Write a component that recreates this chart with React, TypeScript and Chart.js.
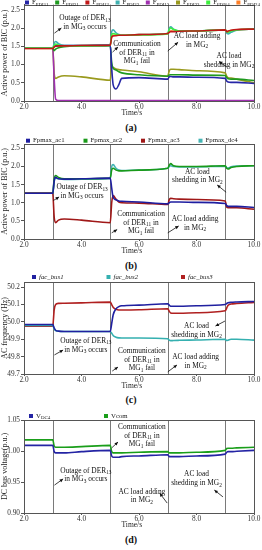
import React, { useEffect, useRef } from "react";
import { Chart, registerables } from "chart.js";
Chart.register(...registerables);

const FONT = '"Liberation Serif", "Times New Roman", serif';

// ---------- shared ----------
const time = [2.0, 3.0, 3.05, 3.1, 3.2, 3.4, 4.0, 5.0, 5.05, 5.1, 5.2, 5.3, 5.4, 6.0, 7.0, 7.05, 7.1, 7.2, 7.4, 8.0, 9.0, 9.05, 9.1, 9.2, 9.4, 10.0];
const xTicks = [2, 4, 6, 8, 10];
const eventTimes = [3, 5, 7, 9];
const xTitle = "Time/s";

// ---------- (a) active power of BIC ----------
const aLabels = ["F_{PDI11}", "F_{PDI21}", "F_{PDI12}", "F_{PDI22}", "F_{PDI13}", "F_{PDI23}", "F_{PDI14}", "F_{PDI24}"];
const aPDI11 = [1.45, 1.45, 1.50, 1.51, 1.52, 1.52, 1.52, 1.53, 0.90, 0.45, 0.33, 0.45, 0.62, 0.64, 0.60, 0.66, 0.67, 0.66, 0.66, 0.65, 0.62, 0.55, 0.52, 0.51, 0.51, 0.48];
const aPDI21 = [1.45, 1.45, 1.38, 1.42, 1.46, 1.49, 1.51, 1.52, 1.05, 0.90, 0.85, 0.80, 0.77, 0.72, 0.68, 0.71, 0.72, 0.72, 0.72, 0.71, 0.70, 0.64, 0.61, 0.60, 0.60, 0.56];
const aPDI12 = [1.44, 1.44, 1.48, 1.50, 1.51, 1.51, 1.52, 1.53, 1.75, 1.78, 1.79, 1.80, 1.80, 1.82, 1.85, 1.88, 1.90, 1.90, 1.91, 1.92, 1.95, 1.90, 1.92, 1.94, 1.96, 1.97];
const aPDI22 = [1.45, 1.45, 1.58, 1.63, 1.57, 1.52, 1.52, 1.53, 1.90, 1.95, 1.87, 1.82, 1.80, 1.82, 1.85, 1.98, 2.03, 1.97, 1.92, 1.92, 1.95, 1.86, 1.84, 1.88, 1.94, 1.97];
const aPDI13 = [1.45, 1.45, 0.60, 0.05, 0.01, 0.01, 0.01, 0.01, 0.01, 0.01, 0.01, 0.01, 0.01, 0.01, 0.01, 0.01, 0.01, 0.01, 0.01, 0.01, 0.01, 0.01, 0.01, 0.01, 0.01, 0.01];
const aPDI23 = [1.45, 1.45, 0.75, 0.62, 0.66, 0.69, 0.66, 0.57, 0.95, 0.92, 0.88, 0.86, 0.85, 0.80, 0.68, 0.82, 0.87, 0.87, 0.86, 0.83, 0.77, 0.68, 0.64, 0.63, 0.60, 0.50];
const aPDI14 = [1.45, 1.45, 1.52, 1.56, 1.53, 1.51, 1.51, 1.52, 1.82, 1.85, 1.83, 1.81, 1.80, 1.81, 1.84, 1.95, 2.00, 1.96, 1.92, 1.92, 1.95, 1.90, 1.89, 1.92, 1.95, 1.97];
const aPDI24 = [1.44, 1.44, 1.49, 1.51, 1.51, 1.51, 1.52, 1.53, 1.77, 1.80, 1.80, 1.80, 1.80, 1.82, 1.85, 1.90, 1.92, 1.91, 1.91, 1.92, 1.95, 1.88, 1.89, 1.93, 1.95, 1.97];
const aYTicks = [0, 0.5, 1.0, 1.5, 2.0, 2.5];

// ---------- (b) ----------
const bLabels = ["Fpmax_ac1", "Fpmax_ac2", "Fpmax_ac3", "Fpmax_dc4"];
const bAc1 = [1.26, 1.26, 1.60, 1.70, 1.66, 1.65, 1.66, 1.68, 1.40, 1.15, 1.08, 1.05, 1.04, 1.02, 0.97, 1.00, 1.02, 1.02, 1.02, 1.01, 0.98, 0.92, 0.90, 0.90, 0.90, 0.87];
const bAc2 = [1.26, 1.26, 1.65, 1.75, 1.70, 1.66, 1.66, 1.68, 1.90, 1.95, 1.90, 1.88, 1.88, 1.90, 1.95, 2.03, 2.08, 2.02, 2.00, 2.00, 2.02, 1.95, 1.93, 1.97, 2.00, 2.02];
const bAc3 = [1.26, 1.26, 0.60, 0.45, 0.52, 0.55, 0.52, 0.45, 1.00, 1.20, 1.10, 1.02, 1.00, 0.99, 0.95, 1.08, 1.12, 1.11, 1.10, 1.09, 1.05, 0.88, 0.86, 0.86, 0.86, 0.82];
const bDc4 = [1.26, 1.26, 1.60, 1.68, 1.66, 1.64, 1.65, 1.67, 2.00, 2.05, 1.95, 1.90, 1.89, 1.90, 1.95, 2.00, 2.02, 2.00, 1.99, 1.99, 2.01, 1.97, 1.96, 1.99, 2.01, 2.02];
const bYTicks = [0, 0.5, 1.0, 1.5, 2.0, 2.5];

// ---------- (c) AC frequency ----------
const cLabels = ["fac_bus1", "fac_bus2", "fac_bus3"];
const cBus1 = [49.985, 49.985, 49.965, 49.952, 49.947, 49.945, 49.945, 49.945, 49.99, 50.04, 50.075, 50.088, 50.093, 50.097, 50.105, 50.097, 50.09, 50.09, 50.09, 50.093, 50.1, 50.106, 50.11, 50.113, 50.115, 50.118];
const cBus2 = [49.98, 49.98, 49.96, 49.95, 49.946, 49.945, 49.945, 49.945, 49.935, 49.922, 49.912, 49.908, 49.907, 49.907, 49.903, 49.895, 49.892, 49.893, 49.894, 49.896, 49.9, 49.893, 49.895, 49.9, 49.9, 49.895];
const cBus3 = [49.975, 49.975, 50.07, 50.1, 50.107, 50.108, 50.11, 50.114, 50.1, 50.085, 50.073, 50.069, 50.069, 50.07, 50.076, 50.062, 50.052, 50.05, 50.05, 50.053, 50.064, 50.08, 50.096, 50.103, 50.106, 50.112];
const cYTicks = [49.7, 49.8, 49.9, 50.0, 50.1, 50.2];

// ---------- (d) DC bus voltage ----------
const dLabels = ["V_{DC4}", "Vcom"];
const dVdc4 = [1.009, 1.009, 0.999, 0.997, 0.997, 0.997, 0.999, 1.001, 0.992, 0.99, 0.99, 0.99, 0.991, 0.992, 0.994, 0.991, 0.991, 0.991, 0.991, 0.992, 0.995, 0.998, 0.999, 0.999, 0.9995, 1.001];
const dVcom = [1.018, 1.018, 1.008, 1.006, 1.006, 1.006, 1.007, 1.009, 0.999, 0.997, 0.997, 0.997, 0.997, 0.998, 0.999, 0.997, 0.997, 0.997, 0.997, 0.998, 1.001, 1.004, 1.0045, 1.0045, 1.005, 1.006];
const dYTicks = [0.9, 0.95, 1.0, 1.05];

// ---------- helpers ----------
type Seg = { t: string; sub: boolean };
function segments(text: string): Seg[] {
  const out: Seg[] = [];
  const re = /_\{([^}]*)\}/g;
  let last = 0;
  let m: RegExpExecArray | null;
  while ((m = re.exec(text))) {
    if (m.index > last) out.push({ t: text.slice(last, m.index), sub: false });
    out.push({ t: m[1], sub: true });
    last = m.index + m[0].length;
  }
  if (last < text.length) out.push({ t: text.slice(last), sub: false });
  return out;
}
function drawRich(ctx: CanvasRenderingContext2D, text: string, x: number, y: number, size: number, align: "left" | "center", italic = false) {
  const segs = segments(text);
  const sub = size * 0.72;
  const font = (sz: number) => `${italic ? "italic " : ""}${sz}px ${FONT}`;
  let w = 0;
  for (const s of segs) {
    ctx.font = font(s.sub ? sub : size);
    w += ctx.measureText(s.t).width;
  }
  let cx = align === "center" ? x - w / 2 : x;
  ctx.textAlign = "left";
  ctx.textBaseline = "middle";
  for (const s of segs) {
    ctx.font = font(s.sub ? sub : size);
    ctx.fillText(s.t, cx, s.sub ? y + size * 0.28 : y);
    cx += ctx.measureText(s.t).width;
  }
}

type Note = { lines: string[]; x: number; y: number };
type Arrow = { from: [number, number]; to: [number, number] };
type Decor = {
  notes: Note[];
  arrows: Arrow[];
  legend: { x0: number; step: number; y: number; italic?: boolean };
};

function makeDecor(d: Decor) {
  return {
    id: "decor",
    beforeDatasetsDraw(chart: any) {
      const { ctx, chartArea: a, scales } = chart;
      ctx.save();
      ctx.strokeStyle = "#7a7a7a";
      ctx.lineWidth = 1;
      for (const t of eventTimes) {
        const px = Math.round(scales.x.getPixelForValue(t)) + 0.5;
        ctx.beginPath();
        ctx.moveTo(px, a.top);
        ctx.lineTo(px, a.bottom);
        ctx.stroke();
      }
      ctx.restore();
    },
    afterDatasetsDraw(chart: any) {
      const { ctx, chartArea: a, scales } = chart;
      ctx.save();
      ctx.strokeStyle = "#555";
      ctx.lineWidth = 1;
      ctx.strokeRect(Math.round(a.left) + 0.5, Math.round(a.top) + 0.5, Math.round(a.right - a.left), Math.round(a.bottom - a.top));
      // x-axis title
      ctx.fillStyle = "#222";
      ctx.font = `7.5px ${FONT}`;
      ctx.textAlign = "center";
      ctx.textBaseline = "middle";
      ctx.fillText(xTitle, scales.x.getPixelForValue(5.75), a.bottom + 12.5);
      // notes
      ctx.fillStyle = "#111";
      for (const n of d.notes) {
        const px = scales.x.getPixelForValue(n.x);
        const py = scales.y.getPixelForValue(n.y);
        n.lines.forEach((ln, i) => drawRich(ctx, ln, px, py + i * 8.6, 7.4, "center"));
      }
      ctx.strokeStyle = "#111";
      ctx.lineWidth = 0.8;
      for (const ar of d.arrows) {
        const x1 = scales.x.getPixelForValue(ar.from[0]);
        const y1 = scales.y.getPixelForValue(ar.from[1]);
        const x2 = scales.x.getPixelForValue(ar.to[0]);
        const y2 = scales.y.getPixelForValue(ar.to[1]);
        const ang = Math.atan2(y2 - y1, x2 - x1);
        ctx.beginPath();
        ctx.moveTo(x1, y1);
        ctx.lineTo(x2, y2);
        ctx.stroke();
        const h = 3.8;
        ctx.beginPath();
        ctx.moveTo(x2, y2);
        ctx.lineTo(x2 - h * Math.cos(ang - 0.45), y2 - h * Math.sin(ang - 0.45));
        ctx.lineTo(x2 - h * Math.cos(ang + 0.45), y2 - h * Math.sin(ang + 0.45));
        ctx.closePath();
        ctx.fill();
      }
      chart.data.datasets.forEach((ds: any, i: number) => {
        const x = d.legend.x0 + i * d.legend.step;
        const y = d.legend.y;
        ctx.fillStyle = ds.borderColor;
        ctx.fillRect(x, y - 2, 4, 4);
        ctx.fillStyle = "#222";
        drawRich(ctx, ds.label, x + 7, y, 6.8, "left", d.legend.italic);
      });
      ctx.restore();
    },
  };
}

type Series = { label: string; data: number[]; color: string; order: number };

function buildConfig(p: {
  series: Series[];
  yMin: number;
  yMax: number;
  yTicks: number[];
  decimals: number;
  yTitle: string;
  padTop: number;
  decor: Decor;
}) {
  const tickFont = { family: FONT, size: 7.3, lineHeight: 1 };
  return {
    type: "line",
    data: {
      datasets: p.series.map((s) => ({
        label: s.label,
        data: time.map((t, i) => ({ x: t, y: s.data[i] })),
        borderColor: s.color,
        backgroundColor: s.color,
        borderWidth: 1.6,
        pointRadius: 0,
        cubicInterpolationMode: "monotone",
        order: s.order,
      })),
    },
    options: {
      animation: false,
      responsive: false,
      devicePixelRatio: 1,
      layout: { padding: { top: p.padTop, right: 8, left: 0, bottom: 0 } },
      plugins: { legend: { display: false }, tooltip: { enabled: false } },
      scales: {
        x: {
          type: "linear",
          min: 2,
          max: 10,
          afterBuildTicks: (s: any) => {
            s.ticks = xTicks.map((v) => ({ value: v }));
          },
          afterFit: (s: any) => {
            s.height = 17;
          },
          ticks: { font: tickFont, color: "#333", padding: 0, maxRotation: 0, autoSkip: false, callback: (v: any) => Number(v).toFixed(1) },
          grid: { drawOnChartArea: false, drawTicks: true, tickLength: 2, color: "#555" },
          border: { color: "#555" },
          title: { display: false },
        },
        y: {
          min: p.yMin,
          max: p.yMax,
          afterBuildTicks: (s: any) => {
            s.ticks = p.yTicks.map((v) => ({ value: v }));
          },
          afterFit: (s: any) => {
            s.width = 24;
          },
          ticks: { font: tickFont, color: "#333", padding: 1, autoSkip: false, callback: (v: any) => Number(v).toFixed(p.decimals) },
          grid: { drawOnChartArea: false, drawTicks: true, tickLength: 3, color: "#555" },
          border: { color: "#555" },
          title: { display: true, text: p.yTitle, font: { family: FONT, size: 8 }, color: "#222", padding: { top: 0, bottom: 0 } },
        },
      },
    },
    plugins: [makeDecor(p.decor)],
  };
}

function Panel({ top, height, config }: { top: number; height: number; config: any }) {
  const ref = useRef<HTMLCanvasElement | null>(null);
  useEffect(() => {
    if (!ref.current) return;
    const c = new Chart(ref.current, config);
    return () => c.destroy();
  }, [config]);
  return <canvas ref={ref} width={262} height={height} style={{ position: "absolute", left: 0, top, width: 262, height }} />;
}

function Caption({ top, text }: { top: number; text: string }) {
  return (
    <div style={{ position: "absolute", left: 0, top, width: 262, textAlign: "center", fontFamily: FONT, fontWeight: "bold", fontSize: 10, lineHeight: "12px", color: "#111" }}>
      {text}
    </div>
  );
}

const cfgA = buildConfig({
  series: [
    { label: aLabels[0], data: aPDI11, color: "#2626a6", order: 3 },
    { label: aLabels[1], data: aPDI21, color: "#1f9a1f", order: 4 },
    { label: aLabels[2], data: aPDI12, color: "#c01818", order: 0 },
    { label: aLabels[3], data: aPDI22, color: "#3fb0b0", order: 2 },
    { label: aLabels[4], data: aPDI13, color: "#a030b0", order: 5 },
    { label: aLabels[5], data: aPDI23, color: "#9a9a1e", order: 6 },
    { label: aLabels[6], data: aPDI14, color: "#3cf03c", order: 1 },
    { label: aLabels[7], data: aPDI24, color: "#ff7f27", order: 7 },
  ],
  yMin: 0,
  yMax: 2.64,
  yTicks: aYTicks,
  decimals: 1,
  yTitle: "Active power of BIC (p.u.)",
  padTop: 4,
  decor: {
    notes: [
      { lines: ["Outage of DER_{13}", "in MG_{3} occurs"], x: 4.12, y: 2.27 },
      { lines: ["Communication", "of DER_{11} in", "MG_{1} fail"], x: 5.93, y: 1.56 },
      { lines: ["AC load adding", "in MG_{2}"], x: 8.02, y: 1.78 },
      { lines: ["AC load", "shedding in MG_{2}"], x: 9.13, y: 1.23 },
    ],
    arrows: [
      { from: [3.06, 1.86], to: [3.3, 2.0] },
      { from: [5.08, 1.34], to: [5.27, 1.48] },
      { from: [7.0, 1.37], to: [7.36, 1.61] },
      { from: [9.06, 0.93], to: [8.78, 1.08] },
    ],
    legend: { x0: 25, step: 30.2, y: 2.5 },
  },
});

const cfgB = buildConfig({
  series: [
    { label: bLabels[0], data: bAc1, color: "#1e1ea0", order: 0 },
    { label: bLabels[1], data: bAc2, color: "#1a9a1a", order: 2 },
    { label: bLabels[2], data: bAc3, color: "#a01818", order: 1 },
    { label: bLabels[3], data: bDc4, color: "#45b5b5", order: 3 },
  ],
  yMin: 0,
  yMax: 2.62,
  yTicks: bYTicks,
  decimals: 1,
  yTitle: "Active power of BIC (p.u.)",
  padTop: 8,
  decor: {
    notes: [
      { lines: ["Outage of DER_{13}", "in MG_{3} occurs"], x: 4.02, y: 1.43 },
      { lines: ["AC load", "shedding in MG_{2}"], x: 8.03, y: 1.85 },
      { lines: ["Communication", "of DER_{11} in", "MG_{1} fail"], x: 6.07, y: 0.69 },
      { lines: ["AC load adding", "in MG_{2}"], x: 7.95, y: 0.55 },
    ],
    arrows: [
      { from: [3.02, 1.06], to: [3.22, 1.16] },
      { from: [9.03, 1.29], to: [8.72, 1.49] },
      { from: [5.05, 0.17], to: [5.24, 0.26] },
      { from: [7.0, 0.17], to: [7.38, 0.36] },
    ],
    legend: { x0: 26, step: 57.5, y: 4.7 },
  },
});

const cfgC = buildConfig({
  series: [
    { label: cLabels[0], data: cBus1, color: "#2020a0", order: 0 },
    { label: cLabels[1], data: cBus2, color: "#35b0b0", order: 1 },
    { label: cLabels[2], data: cBus3, color: "#b02020", order: 2 },
  ],
  yMin: 49.7,
  yMax: 50.23,
  yTicks: cYTicks,
  decimals: 1,
  yTitle: "AC frequency (Hz)",
  padTop: 10,
  decor: {
    notes: [
      { lines: ["AC load", "shedding in MG_{2}"], x: 8.0, y: 49.976 },
      { lines: ["Outage of DER_{13}", "in MG_{3} occurs"], x: 4.15, y: 49.89 },
      { lines: ["Communication", "of DER_{11} in", "MG_{1} fail"], x: 6.1, y: 49.832 },
      { lines: ["AC load adding", "in MG_{2}"], x: 7.97, y: 49.798 },
    ],
    arrows: [
      { from: [8.99, 50.005], to: [8.66, 49.976] },
      { from: [3.06, 49.81], to: [3.36, 49.838] },
      { from: [5.07, 49.717], to: [5.27, 49.74] },
      { from: [7.0, 49.712], to: [7.32, 49.752] },
    ],
    legend: { x0: 32, step: 74.5, y: 5, italic: true },
  },
});

const cfgD = buildConfig({
  series: [
    { label: dLabels[0], data: dVdc4, color: "#2424a4", order: 0 },
    { label: dLabels[1], data: dVcom, color: "#1a9e1a", order: 1 },
  ],
  yMin: 0.9,
  yMax: 1.05,
  yTicks: dYTicks,
  decimals: 2,
  yTitle: "DC bus voltage(p.u.)",
  padTop: 12,
  decor: {
    notes: [
      { lines: ["Communication", "of DER_{11} in", "MG_{1} fail"], x: 6.1, y: 1.0387 },
      { lines: ["Outage of DER_{13}", "in MG_{3} occurs"], x: 4.15, y: 0.968 },
      { lines: ["AC load", "shedding in MG_{2}"], x: 8.0, y: 0.962 },
      { lines: ["AC load adding", "in MG_{2}"], x: 6.1, y: 0.934 },
    ],
    arrows: [
      { from: [5.05, 1.005], to: [5.27, 1.0145] },
      { from: [3.06, 0.945], to: [3.36, 0.955] },
      { from: [8.92, 0.926], to: [8.62, 0.937] },
      { from: [6.98, 0.916], to: [6.72, 0.932] },
    ],
    legend: { x0: 29, step: 75, y: 8 },
  },
});

export default function App() {
  return (
    <div style={{ position: "absolute", left: 0, top: 0, width: 262, height: 550, background: "#fff", overflow: "hidden" }}>
      <Panel top={0} height={118} config={cfgA} />
      <Caption top={122} text="(a)" />
      <Panel top={136} height={120} config={cfgB} />
      <Caption top={260} text="(b)" />
      <Panel top={272} height={119} config={cfgC} />
      <Caption top={394} text="(c)" />
      <Panel top={408} height={122} config={cfgD} />
      <Caption top={534} text="(d)" />
    </div>
  );
}
